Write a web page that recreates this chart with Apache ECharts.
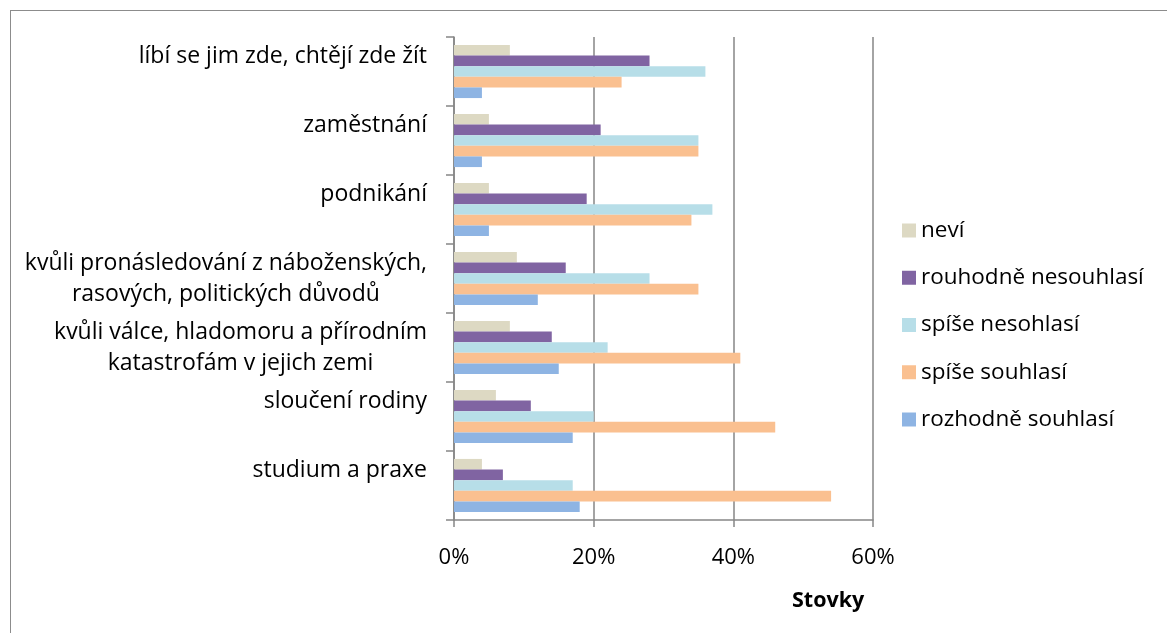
<!DOCTYPE html>
<html>
<head>
<meta charset="utf-8">
<script src="https://cdn.jsdelivr.net/npm/echarts@6/dist/echarts.min.js"></script>
<style>
  html, body { margin: 0; padding: 0; background: #fff; overflow: hidden; }
  #frame { position: absolute; left: 10px; top: 10px; width: 1300px; height: 800px; border: 1.5px solid #8c8c8c; }
  #chart { position: absolute; left: 0; top: 0; width: 1167px; height: 633px; }
</style>
</head>
<body>
<div id="frame"></div>
<div id="chart"></div>
<script>
// kategorie odspodu nahoru
var categories = [
  "studium a praxe",
  "sloučení rodiny",
  "kvůli válce, hladomoru a přírodním\nkatastrofám v jejich zemi",
  "kvůli pronásledování z náboženských,\nrasových, politických důvodů",
  "podnikání",
  "zaměstnání",
  "líbí se jim zde, chtějí zde žít"
];
var rozhodneSouhlasi = [18, 17, 15, 12, 5, 4, 4];
var spiseSouhlasi = [54, 46, 41, 35, 34, 35, 24];
var spiseNesohlasi = [17, 20, 22, 28, 37, 35, 36];
var rouhodneNesouhlasi = [7, 11, 14, 16, 19, 21, 28];
var nevi = [4, 6, 8, 9, 5, 5, 8];
var tickMax = 60;
var tickStep = 20;

var font = "Open Sans";
var chart = echarts.init(document.getElementById("chart"));

function bar(name, data, color) {
  return {
    name: name,
    type: "bar",
    data: data,
    barGap: "0%",
    barCategoryGap: "23%",
    itemStyle: { color: color }
  };
}

var option = {
  animation: false,
  textStyle: { fontFamily: font, color: "#000" },
  grid: { left: 454, right: 294, top: 37, bottom: 113 },
  legend: {
    orient: "vertical",
    left: 902,
    top: 219,
    padding: 0,
    icon: "rect",
    itemWidth: 14,
    itemHeight: 14,
    itemGap: 24.25,
    textStyle: { fontFamily: font, fontSize: 22.5, color: "#000", lineHeight: 21 },
    data: ["neví", "rouhodně nesouhlasí", "spíše nesohlasí", "spíše souhlasí", "rozhodně souhlasí"]
  },
  title: {
    text: "Stovky",
    left: 787,
    top: 585,
    textStyle: { fontFamily: font, fontSize: 21.5, fontWeight: "bold", color: "#000" }
  },
  xAxis: {
    type: "value",
    min: 0,
    max: tickMax,
    interval: tickStep,
    axisLine: { show: true, lineStyle: { color: "#868686", width: 1.5 } },
    axisTick: { show: true, length: 7, lineStyle: { color: "#868686", width: 1.5 } },
    splitLine: { show: true, lineStyle: { color: "#868686", width: 1.5 } },
    axisLabel: { formatter: "{value}%", fontSize: 22, color: "#000", margin: 27, fontFamily: font }
  },
  yAxis: {
    type: "category",
    data: categories,
    axisLine: { show: true, lineStyle: { color: "#868686", width: 1.5 } },
    axisTick: { show: true, length: 8, lineStyle: { color: "#868686", width: 1.5 } },
    axisLabel: {
      margin: 27,
      fontSize: 23,
      lineHeight: 31,
      color: "#000",
      fontFamily: font,
      align: "right",
      formatter: function (value) {
        var lines = value.split("\n");
        if (lines.length === 1) lines.push(" ");
        return lines.map(function (l) { return "{c|" + l + "}"; }).join("\n");
      },
      rich: { c: { align: "center", fontSize: 23, lineHeight: 31, fontFamily: font, color: "#000" } }
    }
  },
  // v ECharts je první řada nahoře
  series: [
    bar("neví", nevi, "#DDD9C3"),
    bar("rouhodně nesouhlasí", rouhodneNesouhlasi, "#8064A2"),
    bar("spíše nesohlasí", spiseNesohlasi, "#B7DEE8"),
    bar("spíše souhlasí", spiseSouhlasi, "#FAC090"),
    bar("rozhodně souhlasí", rozhodneSouhlasi, "#8EB4E3")
  ]
};

chart.setOption(option);
</script>
</body>
</html>
